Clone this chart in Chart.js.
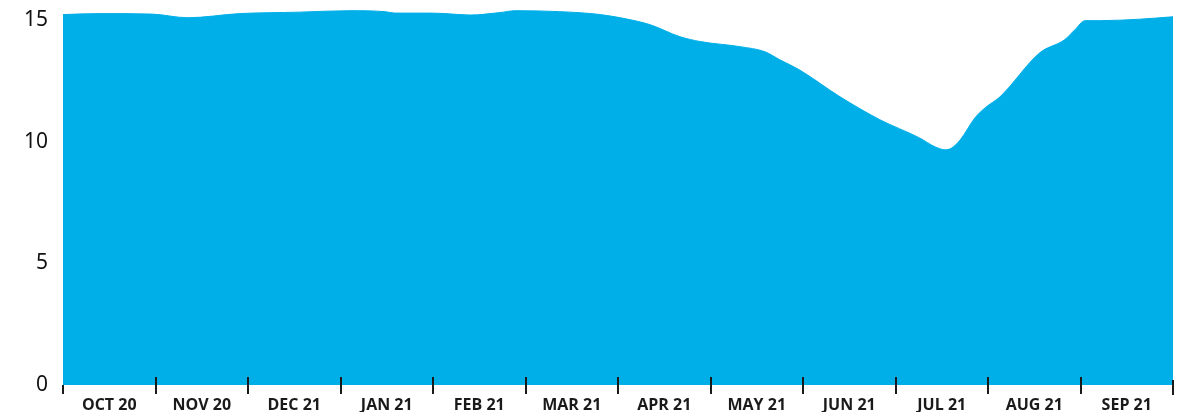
<!DOCTYPE html>
<html>
<head>
<meta charset="utf-8">
<script src="https://cdn.jsdelivr.net/npm/chart.js@4.4.0/dist/chart.umd.min.js"></script>
<style>
  html, body { margin: 0; padding: 0; background: #ffffff; }
  #wrap { width: 1182px; height: 412px; position: relative; }
</style>
</head>
<body>
<div id="wrap"><canvas id="c" width="1182" height="412"></canvas></div>
<script>
// Month labels (each centred inside its month band)
const monthLabels = ["OCT 20","NOV 20","DEC 21","JAN 21","FEB 21","MAR 21","APR 21","MAY 21","JUN 21","JUL 21","AUG 21","SEP 21"];
// Position along the time axis, in months since the start of OCT 20
const timePos = [0, 0.4, 0.96, 1.35, 1.91, 2.56, 3.1, 3.48, 3.59, 3.97, 4.13, 4.4, 4.72, 4.89, 5.37, 5.81, 6.13, 6.35, 6.67, 6.89, 7.32, 7.59, 7.75, 7.96, 8.4, 8.83, 9.26, 9.43, 9.54, 9.61, 9.7, 9.86, 9.97, 10.13, 10.56, 10.83, 10.94, 11.05, 11.21, 11.64, 12];
// Series values
const values = [15.23, 15.27, 15.25, 15.10, 15.27, 15.33, 15.39, 15.35, 15.29, 15.29, 15.27, 15.21, 15.31, 15.39, 15.35, 15.23, 15.02, 14.81, 14.32, 14.12, 13.91, 13.70, 13.37, 12.96, 11.85, 10.91, 10.16, 9.79, 9.67, 9.75, 10.08, 10.99, 11.40, 11.85, 13.66, 14.20, 14.61, 14.98, 14.98, 15.04, 15.14];
const yTicks = [0, 5, 10, 15];

const points = timePos.map((t, i) => ({ x: t, y: values[i] }));

const tickMarks = {
  id: 'tickMarks',
  afterDatasetsDraw(chart) {
    const ctx = chart.ctx;
    const xs = chart.scales.x;
    const bottom = chart.chartArea.bottom;
    ctx.save();
    ctx.strokeStyle = '#1a1a1a';
    ctx.lineWidth = 2;
    for (let i = 0; i <= monthLabels.length; i++) {
      const px = Math.round(xs.getPixelForValue(i));
      let top = bottom - 8, bot = bottom + 9;
      if (i === 0) { top = bottom; }
      if (i === monthLabels.length) { top = bottom - 5; bot = bottom + 10; }
      ctx.beginPath();
      ctx.moveTo(px, top);
      ctx.lineTo(px, bot);
      ctx.stroke();
    }
    ctx.restore();
  }
};

new Chart(document.getElementById('c'), {
  type: 'line',
  data: {
    datasets: [{
      data: points,
      fill: 'origin',
      backgroundColor: '#00afe8',
      borderColor: '#00afe8',
      borderWidth: 1,
      pointRadius: 0,
      tension: 0.35,
      cubicInterpolationMode: 'monotone'
    }]
  },
  options: {
    responsive: false,
    animation: false,
    layout: { padding: { top: 8, right: 9, left: 0, bottom: 0 } },
    plugins: { legend: { display: false }, tooltip: { enabled: false } },
    scales: {
      x: {
        type: 'linear',
        min: 0,
        max: monthLabels.length,
        border: { display: false },
        grid: { display: false, drawTicks: false },
        afterFit(scale) { scale.height = 27; scale.paddingLeft = 0; scale.paddingRight = 0; },
        afterBuildTicks(scale) {
          const t = [];
          for (let i = 0; i < monthLabels.length; i++) t.push({ value: i + 0.5 });
          scale.ticks = t;
        },
        ticks: {
          autoSkip: false,
          maxRotation: 0,
          padding: 11,
          color: '#1a1a1a',
          font: { family: 'Open Sans', size: 16, weight: 'bold' },
          callback(v) { return monthLabels[Math.floor(v)]; }
        }
      },
      y: {
        min: 0,
        max: 15.5,
        border: { display: false },
        grid: { display: false, drawTicks: false },
        afterFit(scale) { scale.width = 63; scale.paddingTop = 0; scale.paddingBottom = 0; },
        afterBuildTicks(scale) { scale.ticks = yTicks.map(v => ({ value: v })); },
        ticks: {
          padding: 15,
          color: '#111111',
          font: { family: 'Noto Sans', size: 21 },
          callback(v) { return String(v); }
        }
      }
    }
  },
  plugins: [tickMarks]
});
</script>
</body>
</html>
